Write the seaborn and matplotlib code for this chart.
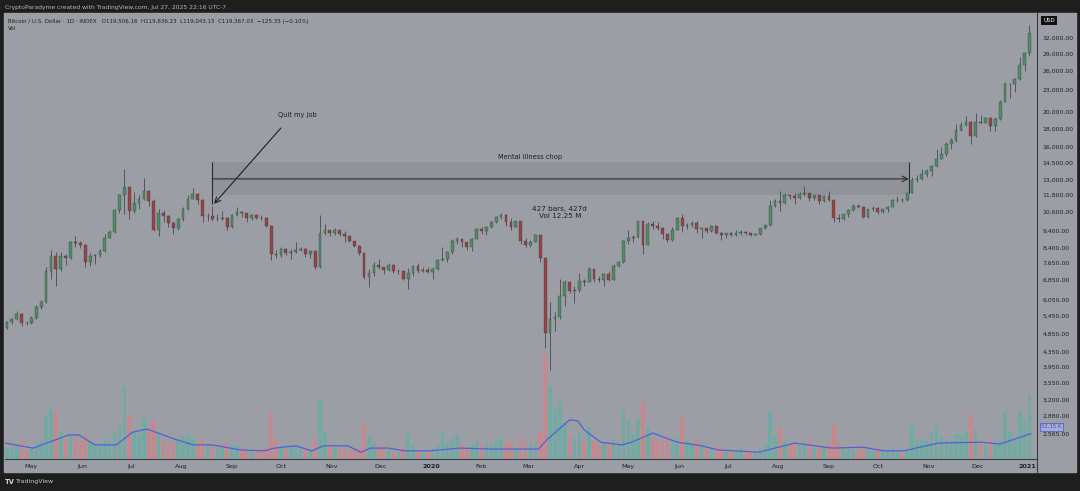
import numpy as np
import pandas as pd
import matplotlib
matplotlib.use('Agg')
import matplotlib.pyplot as plt
import matplotlib.dates as mdates
from matplotlib.patches import Rectangle
from matplotlib.lines import Line2D
from matplotlib.ticker import NullLocator
import seaborn as sns

# --- data: BTC/USD, 3-day candles starting 2019-04-15 ---
start_date = "2019-04-15"
first_open = 5050
closes = [
    5230, 5330, 5530, 5220, 5200, 5380, 5770, 5950, 7250, 8000,
    7350, 8000, 7900, 8700, 8650, 8550, 7700, 8000, 8050, 8230,
    8980, 9280, 10700, 11800, 12350, 10600, 11200, 11450, 12100, 11350,
    9400, 10500, 10300, 9880, 9550, 10080, 10800, 11450, 11850, 11400,
    10300, 10300, 10130, 10130, 10170, 9580, 10380, 10580, 10480, 10150,
    10360, 10200, 10170, 9690, 8070, 8050, 8350, 8150, 8200, 8300,
    8350, 8100, 8250, 7450, 9250, 9400, 9250, 9400, 9200, 9050,
    8780, 8500, 8150, 7000, 7150, 7530, 7420, 7300, 7550, 7250,
    7250, 6880, 7150, 7500, 7250, 7320, 7200, 7350, 7760, 7820,
    8180, 8800, 8900, 8730, 8440, 8900, 9500, 9350, 9600, 9900,
    10250, 10360, 9900, 9600, 9970, 8800, 8550, 8750, 9100, 7900,
    4900, 5360, 5400, 6200, 6750, 6370, 6430, 6800, 6780, 7330,
    6880, 6860, 7100, 6850, 7500, 7700, 8800, 8980, 9030, 9990,
    8570, 9790, 9670, 9520, 9180, 8840, 9430, 10200, 9660, 9750,
    9880, 9470, 9520, 9380, 9680, 9250, 9120, 9230, 9130, 9250,
    9280, 9240, 9130, 9170, 9530, 9700, 10950, 11330, 11220, 11760,
    11680, 11560, 11850, 11950, 11580, 11750, 11330, 11700, 11400, 10150,
    10100, 10400, 10680, 10950, 10920, 10240, 10740, 10840, 10550, 10790,
    10930, 11380, 11430, 11370, 11920, 12930, 13030, 13450, 13750, 14150,
    14830, 15300, 16300, 16700, 17800, 18400, 18750, 17150, 18800, 18650,
    19200, 18250, 19150, 21300, 23850, 23850, 24700, 27000, 29000, 33000,
]
highs = [
    5280, 5380, 5620, 5560, 5290, 5440, 5850, 6050, 7450, 8280,
    8200, 8200, 8100, 8800, 9050, 8800, 8620, 8150, 8100, 8350,
    9200, 9400, 10800, 11850, 13880, 12400, 12000, 11750, 13100, 12150,
    11450, 10800, 10700, 10350, 9950, 10150, 10900, 11750, 12300, 11950,
    11450, 10500, 10950, 10400, 10600, 10250, 10450, 10900, 10600, 10500,
    10450, 10400, 10350, 10250, 9750, 8300, 8450, 8400, 8330, 8750,
    8450, 8400, 8300, 8300, 10350, 9800, 9450, 9550, 9450, 9350,
    9100, 8800, 8550, 8200, 7350, 7700, 7850, 7450, 7650, 7600,
    7350, 7300, 7400, 7550, 7650, 7450, 7450, 7450, 7820, 8450,
    8250, 8900, 9000, 8900, 8750, 8950, 9550, 9600, 9650, 10000,
    10300, 10500, 10400, 10200, 10000, 10000, 8950, 8850, 9200, 9150,
    7950, 5950, 5600, 6900, 6850, 6800, 6600, 7150, 6900, 7450,
    7350, 7050, 7150, 7250, 7600, 7750, 8850, 9450, 9150, 10000,
    9990, 9900, 9950, 9900, 9600, 9200, 9600, 10250, 10400, 9850,
    9950, 9950, 9550, 9550, 9750, 9700, 9300, 9250, 9300, 9400,
    9450, 9350, 9250, 9200, 9550, 9750, 11400, 11450, 12100, 11900,
    11800, 11950, 12000, 12450, 11950, 11800, 11800, 11750, 12050, 11450,
    10400, 10450, 10800, 11100, 11150, 10950, 10780, 10950, 10900, 10800,
    10950, 11450, 11700, 11550, 11950, 13200, 13350, 13850, 13900, 14250,
    15750, 15950, 16450, 16900, 18450, 18800, 19450, 18900, 19850, 19550,
    19400, 19300, 19400, 21550, 24250, 24100, 24800, 28400, 29300, 34800,
]
lows = [
    5000, 5190, 5300, 5100, 5150, 5170, 5360, 5700, 5930, 6900,
    6600, 7250, 7550, 7850, 8450, 8420, 7450, 7500, 7580, 7950,
    8180, 8950, 9230, 10500, 10400, 10100, 10500, 10800, 11400, 11000,
    9350, 9070, 9900, 9600, 9200, 9450, 10000, 10700, 11500, 11100,
    9900, 9950, 9950, 9950, 10050, 9450, 9550, 10300, 10250, 9900,
    10050, 10100, 10050, 9600, 7800, 7900, 7950, 8050, 7850, 8150,
    8250, 7950, 7900, 7350, 7400, 9100, 9050, 9100, 9050, 8700,
    8700, 8450, 8050, 6900, 6550, 7050, 7350, 7100, 7250, 7150,
    7100, 6850, 6450, 7050, 7150, 7200, 7150, 6900, 7300, 7750,
    7700, 8100, 8600, 8450, 8300, 8250, 8900, 9200, 9150, 9550,
    9850, 10100, 9650, 9450, 9600, 8600, 8450, 8450, 8700, 7700,
    4450, 3850, 4950, 5350, 5800, 6300, 5900, 6350, 6600, 6750,
    6750, 6750, 6600, 6800, 6850, 7450, 7650, 8600, 8700, 8950,
    8100, 8550, 9500, 9450, 8900, 8700, 8800, 9400, 9300, 9500,
    9600, 9250, 8950, 9250, 9300, 9200, 8850, 8950, 9050, 9050,
    9150, 9150, 9050, 9100, 9150, 9500, 9650, 10900, 10600, 11100,
    11500, 11150, 11500, 11700, 11300, 11400, 11150, 11250, 11300, 9900,
    9900, 10050, 10250, 10650, 10850, 10150, 10200, 10650, 10400, 10500,
    10550, 10900, 11250, 11250, 11300, 11900, 12800, 12950, 13200, 13300,
    14100, 14800, 15100, 15800, 16450, 17700, 18300, 16300, 17050, 18600,
    18650, 17650, 17650, 19000, 21250, 21900, 22750, 24450, 25900, 28600,
]
volumes = [
    25, 22, 30, 45, 20, 25, 35, 40, 95, 110,
    105, 60, 45, 55, 50, 40, 50, 40, 35, 30,
    45, 40, 60, 75, 160, 95, 60, 55, 90, 65,
    85, 60, 45, 40, 35, 40, 50, 55, 45, 35,
    45, 30, 30, 25, 25, 35, 30, 30, 25, 20,
    18, 18, 20, 25, 105, 45, 30, 22, 28, 30,
    22, 25, 20, 45, 135, 60, 30, 25, 25, 22,
    20, 20, 25, 75, 50, 35, 30, 22, 20, 18,
    15, 25, 55, 30, 18, 15, 18, 25, 30, 60,
    35, 45, 55, 30, 25, 30, 40, 30, 35, 30,
    40, 45, 35, 40, 25, 50, 35, 30, 30, 60,
    230, 160, 110, 125, 80, 50, 45, 60, 40, 70,
    40, 30, 35, 30, 45, 30, 110, 85, 55, 90,
    125, 70, 45, 40, 45, 50, 35, 45, 90, 40,
    30, 45, 35, 25, 25, 30, 25, 20, 18, 15,
    22, 15, 15, 12, 25, 30, 105, 55, 70, 40,
    30, 40, 30, 35, 45, 25, 30, 25, 35, 75,
    40, 25, 22, 20, 15, 30, 20, 15, 25, 18,
    20, 25, 15, 12, 20, 75, 45, 45, 40, 60,
    75, 50, 45, 40, 55, 55, 60, 100, 65, 40,
    30, 45, 35, 40, 105, 60, 45, 105, 85, 140,
]
# volume moving average as drawn (blue line)
ma_dates = [
    "2019-04-15", "2019-05-02", "2019-05-24", "2019-05-30", "2019-06-09",
    "2019-06-22", "2019-07-02", "2019-07-11", "2019-07-26", "2019-08-08",
    "2019-08-20", "2019-09-06", "2019-09-21", "2019-09-27", "2019-10-10",
    "2019-10-20", "2019-10-27", "2019-11-11", "2019-11-19", "2019-11-25",
    "2019-12-06", "2019-12-16", "2019-12-31", "2020-01-19", "2020-02-05",
    "2020-03-06", "2020-03-07", "2020-03-12", "2020-03-26", "2020-03-31",
    "2020-04-04", "2020-04-14", "2020-04-27", "2020-05-03", "2020-05-16",
    "2020-05-31", "2020-06-15", "2020-06-25", "2020-07-20", "2020-08-11",
    "2020-09-03", "2020-09-22", "2020-10-04", "2020-10-17", "2020-11-07",
    "2020-12-03", "2020-12-15", "2021-01-03",
]
ma_values = [
    35, 24, 53, 53, 31, 31, 59, 66, 46, 31,
    31, 20, 18, 24, 29, 18, 29, 29, 15, 24,
    24, 18, 18, 24, 22, 22, 22, 42, 86, 84,
    64, 37, 31, 37, 57, 37, 29, 20, 15, 35,
    24, 26, 18, 18, 35, 37, 33, 56,
]
price_ticks = [32000, 29000, 26000, 23000, 20000, 18000, 16000, 14500, 13000, 11800,
               10600, 9400, 8400, 7650, 6850, 6050, 5450, 4850, 4350, 3950,
               3550, 3200, 2880, 2565]
month_starts = pd.date_range("2019-05-01", "2021-01-01", freq="MS")
month_labels = ["May", "Jun", "Jul", "Aug", "Sep", "Oct", "Nov", "Dec", "2020",
                "Feb", "Mar", "Apr", "May", "Jun", "Jul", "Aug", "Sep", "Oct",
                "Nov", "Dec", "2021"]

DARK = "#1e1e1f"
GRAY = "#9b9ea5"
INK = "#1f1f22"
UP = "#4f8c64"
DOWN = "#954545"
WICK = "#2e2e30"

sns.set_style("white")
plt.rcParams['font.family'] = ['DejaVu Sans']

W, H = 1080, 491
def fx(px):
    return px / W
def fy(py):
    return 1 - py / H

fig = plt.figure(figsize=(W / 100, H / 100), dpi=100, facecolor=DARK)
fig.patches.append(Rectangle((fx(4), fy(472)), fx(1076) - fx(4), fy(13) - fy(472),
                             transform=fig.transFigure, color=GRAY, zorder=-5))

rect = [fx(5), fy(459), fx(1037) - fx(5), fy(13) - fy(459)]
ax_v = fig.add_axes(rect)
ax = fig.add_axes(rect, sharex=ax_v)
ax.patch.set_visible(False)
ax_v.set_facecolor(GRAY)

dates = pd.date_range(start_date, periods=len(closes), freq="3D")
x = mdates.date2num(dates) + 1.0
c = np.array(closes, dtype=float)
o = np.array([first_open] + closes[:-1], dtype=float)
hi = np.array(highs, dtype=float)
lo = np.array(lows, dtype=float)
up = c >= o

# volume
vol_colors = np.where(up, "#58b3a2", "#e27b7d")
ax_v.bar(x, volumes, width=2.2, color=vol_colors, alpha=0.62, linewidth=0)
ma_x = mdates.date2num(pd.to_datetime(ma_dates))
sns.lineplot(x=ma_x, y=ma_values, ax=ax_v, color="#4f62d6", lw=0.9, sort=False)
ax_v.set_ylim(0, (459 - 13) * 2.2)
ax_v.tick_params(left=False, labelleft=False, bottom=False, labelbottom=False)
for s in ax_v.spines.values():
    s.set_visible(False)
ax_v.set_xlabel("")
ax_v.set_ylabel("")

# candles
ax.vlines(x, lo, hi, color=WICK, lw=0.45, zorder=2)
ax.bar(x, np.abs(c - o), bottom=np.minimum(o, c), width=1.7,
       color=np.where(up, UP, DOWN), edgecolor=WICK, linewidth=0.2, zorder=3)

ax.set_yscale("log")
ax.set_ylim(2191, 37523)
x0 = mdates.date2num(pd.Timestamp("2020-01-01"))
ax.set_xlim(x0 - 261.2, x0 + 371.6)

ax.yaxis.tick_right()
ax.set_yticks(price_ticks)
ax.set_yticklabels([f"{v:,.2f}" for v in price_ticks])
ax.yaxis.set_minor_locator(NullLocator())
ax.tick_params(axis="y", length=0, pad=4, labelsize=4.4, labelcolor=INK)

ax.set_xticks(mdates.date2num(month_starts))
ax.set_xticklabels(month_labels)
ax.tick_params(axis="x", length=0, pad=3.5, labelsize=4.6, labelcolor=INK)
for t in ax.get_xticklabels():
    if t.get_text() in ("2020", "2021"):
        t.set_fontweight("bold")

for side in ("top", "left"):
    ax.spines[side].set_visible(False)
for side in ("right", "bottom"):
    ax.spines[side].set_color("#3a3b3f")
    ax.spines[side].set_linewidth(0.8)
fig.add_artist(Line2D([fx(1037), fx(1037)], [fy(459), fy(472)], color="#3a3b3f", lw=0.8))

# date range tool
d0 = mdates.date2num(pd.Timestamp("2019-08-20"))
d1 = mdates.date2num(pd.Timestamp("2020-10-20"))
ax.fill_between([d0, d1], 11772, 14530, color="#7d8087", alpha=0.35, lw=0, zorder=1)
ax.vlines(d0, 11150, 14530, color="#2a2a2d", lw=0.8, zorder=4)
ax.vlines(d1, 11900, 14530, color="#2a2a2d", lw=0.8, zorder=4)
ax.annotate("", xy=(d1, 13045), xytext=(d0, 13045),
            arrowprops=dict(arrowstyle="->", color="#2a2a2d", lw=0.8, shrinkA=0, shrinkB=0), zorder=4)
ax.text(mdates.date2num(pd.Timestamp("2020-03-02")), 14990, "Mental illness chop",
        fontsize=4.8, color=INK, ha="center", va="center")
ax.text(mdates.date2num(pd.Timestamp("2020-03-20")), 10750, "427 bars, 427d",
        fontsize=5.2, color=INK, ha="center", va="center")
ax.text(mdates.date2num(pd.Timestamp("2020-03-20")), 10330, "Vol 12.25 M",
        fontsize=5.2, color=INK, ha="center", va="center")

# quit my job arrow
ax.annotate("", xy=(mdates.date2num(pd.Timestamp("2019-08-21")), 11130),
            xytext=(mdates.date2num(pd.Timestamp("2019-10-01")), 18040),
            arrowprops=dict(arrowstyle="->", color="#1f1f22", lw=0.8, shrinkA=0, shrinkB=0))
ax.text(mdates.date2num(pd.Timestamp("2019-10-11")), 19540, "Quit my job",
        fontsize=4.8, color=INK, ha="center", va="center")

# header, legend and badges
fig.text(fx(5), fy(7), "CryptoParadyme created with TradingView.com, Jul 27, 2025 22:16 UTC-7",
         fontsize=4.3, color="#b8b8bb", va="center")
fig.text(fx(8), fy(21), "Bitcoin / U.S. Dollar \u00b7 1D \u00b7 INDEX   O119,506.16  H119,836.23  "
         "L119,043.15  C119,367.03  \u2212125.35 (\u22120.10%)",
         fontsize=4.0, color=INK, va="center")
fig.text(fx(8), fy(29), "Vol", fontsize=4.0, color=INK, va="center")
fig.text(fx(1043), fy(20.5), "USD", fontsize=4.0, color="white", va="center",
         bbox=dict(boxstyle="square,pad=0.35", fc="#111113", ec="none"))
# volume MA value badge on the price scale
fig.text(fx(1041), fy(427), "52.15 K", fontsize=3.9, color="#3d52d0", va="center", ha="left",
         bbox=dict(boxstyle="square,pad=0.2", fc="#a9acc8", ec="#4f62d6", lw=0.6))
fig.text(fx(5), fy(482), "TV", fontsize=4.8, color="#d8d8d8", va="center", fontweight="bold")
fig.text(fx(16), fy(482), "TradingView", fontsize=4.5, color="#c8c8c8", va="center")

fig.savefig("out.png", dpi=100, facecolor=DARK)
